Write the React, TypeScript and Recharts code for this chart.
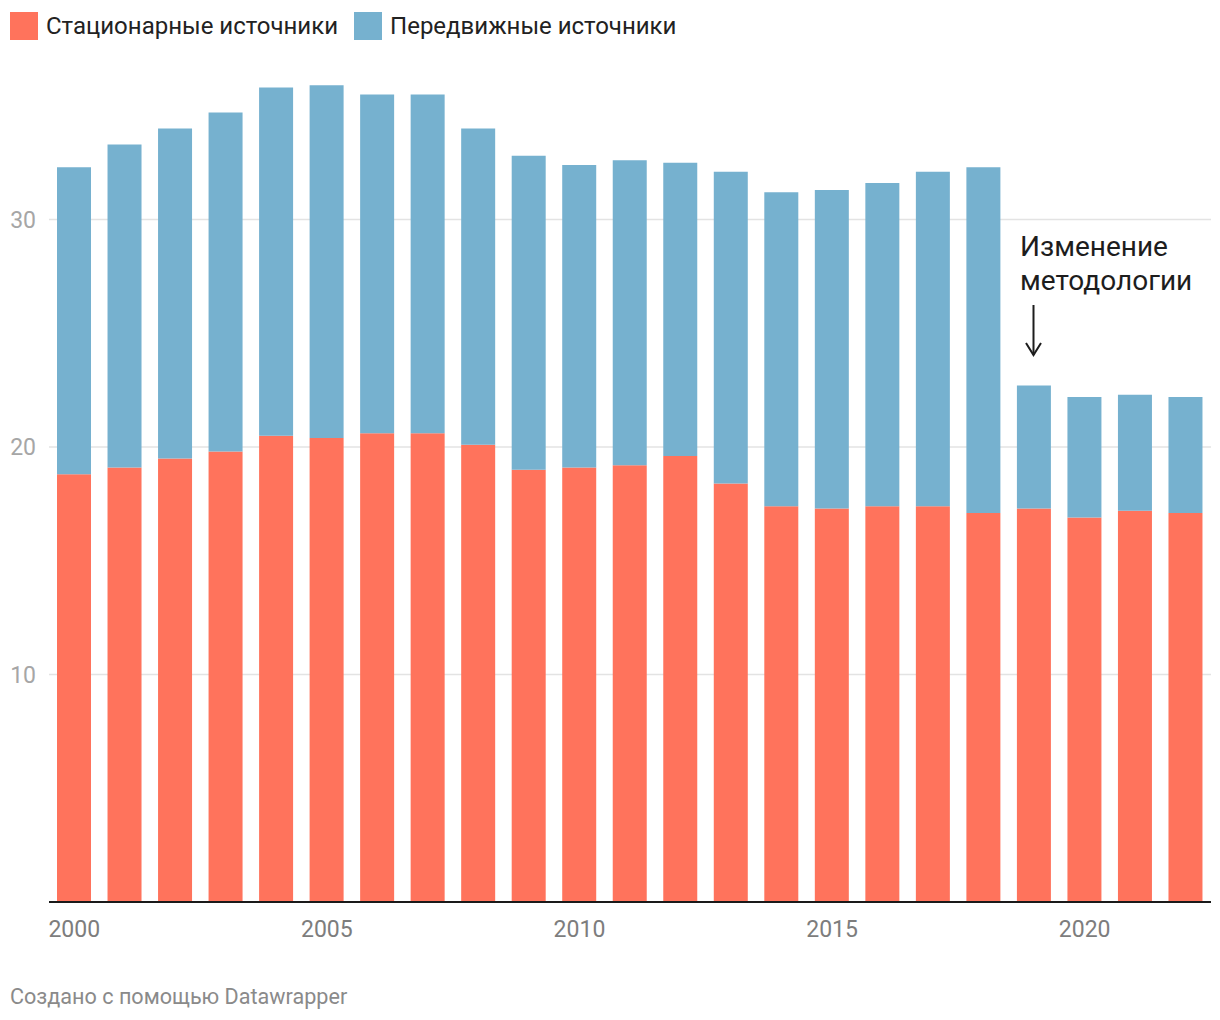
import React from 'react';
import { BarChart, Bar, XAxis, YAxis, CartesianGrid } from 'recharts';

const years = ['2000','2001','2002','2003','2004','2005','2006','2007','2008','2009','2010','2011','2012','2013','2014','2015','2016','2017','2018','2019','2020','2021','2022'];
const stationary = [18.8,19.1,19.5,19.8,20.5,20.4,20.6,20.6,20.1,19.0,19.1,19.2,19.6,18.4,17.4,17.3,17.4,17.4,17.1,17.3,16.9,17.2,17.1];
const mobile = [13.5,14.2,14.5,14.9,15.3,15.5,14.9,14.9,13.9,13.8,13.3,13.4,12.9,13.7,13.8,14.0,14.2,14.7,15.2,5.4,5.3,5.1,5.1];
const yTicks = [10, 20, 30];
const seriesNames = ['Стационарные источники', 'Передвижные источники'];
const colors = ['#ff735c', '#76b1cf'];

const data = years.map((y, i) => ({ year: y, stationary: stationary[i], mobile: mobile[i] }));

const FONT = 'Roboto, "Noto Sans", sans-serif';

const YTick = (props: any) => {
  const { y, payload } = props;
  return (
    <text x={36} y={y} dy="0.36em" textAnchor="end" fill="#a6a6a6" fontSize={23} fontFamily={FONT}>
      {payload.value}
    </text>
  );
};

const XTick = (props: any) => {
  const { x, y, payload } = props;
  return (
    <text x={x} y={y} dy={35} textAnchor="middle" fill="#7d7d7d" fontSize={23} fontFamily={FONT}>
      {payload.value}
    </text>
  );
};

export default function App() {
  return (
    <div style={{ position: 'absolute', left: 0, top: 0, width: 1220, height: 1020, background: '#fff', fontFamily: FONT, overflow: 'hidden' }}>
      <div style={{ position: 'absolute', left: 10, top: 12, display: 'flex', alignItems: 'center', height: 28 }}>
        {seriesNames.map((n, i) => (
          <div key={n} style={{ display: 'flex', alignItems: 'center', marginRight: 16 }}>
            <div style={{ width: 28, height: 28, background: colors[i], marginRight: 8 }} />
            <span style={{ fontSize: 24, color: '#222', lineHeight: '28px' }}>{n}</span>
          </div>
        ))}
      </div>
      <div style={{ position: 'absolute', left: 0, top: 0 }}>
        <BarChart width={1220} height={960} data={data} margin={{ top: 83, right: 9, left: 0, bottom: 0 }}>
          <CartesianGrid
            horizontal
            vertical={false}
            stroke="#e3e3e3"
            strokeWidth={1.5}
            horizontalValues={yTicks}
          />
          <YAxis
            width={49}
            domain={[0, 36]}
            ticks={yTicks}
            allowDataOverflow
            axisLine={false}
            tickLine={false}
            tick={<YTick />}
          />
          <XAxis
            dataKey="year"
            height={58}
            interval={4}
            tickLine={false}
            tickSize={0}
            tickMargin={0}
            axisLine={{ stroke: '#1a1a1a', strokeWidth: 2 }}
            tick={<XTick />}
          />
          <Bar dataKey="stationary" stackId="a" fill={colors[0]} barSize={34} isAnimationActive={false} />
          <Bar dataKey="mobile" stackId="a" fill={colors[1]} barSize={34} isAnimationActive={false} />
        </BarChart>
      </div>
      <div style={{ position: 'absolute', left: 1020, top: 230, fontSize: 28, lineHeight: '34px', color: '#1d1d1d' }}>
        Изменение<br />методологии
      </div>
      <svg style={{ position: 'absolute', left: 0, top: 0 }} width={1220} height={1020} pointerEvents="none">
        <line x1={1033.5} y1={305} x2={1033.5} y2={355} stroke="#1d1d1d" strokeWidth={2} />
        <polyline points="1026,343 1033.5,355 1041,343" fill="none" stroke="#1d1d1d" strokeWidth={2} />
      </svg>
      <div style={{ position: 'absolute', left: 10, top: 984, fontSize: 21.6, color: '#8a8a8a' }}>
        Создано с помощью Datawrapper
      </div>
    </div>
  );
}
